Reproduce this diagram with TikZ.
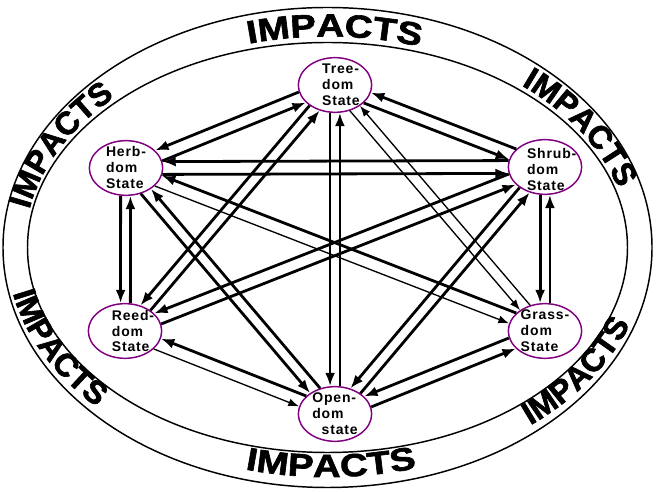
\documentclass[tikz,border=0pt]{standalone}
\usepackage{fontspec}
\setmainfont{Liberation Sans}
\newfontfamily\statefont[LetterSpace=6]{Liberation Sans}
\newfontfamily\impfont[FakeStretch=1.2,FakeBold=2]{Liberation Sans}
\newfontfamily\impsidefont[FakeBold=2]{Liberation Sans}
\usetikzlibrary{arrows.meta,calc,shapes.geometric,decorations.text}

\definecolor{stateline}{RGB}{128,0,128}

\newcommand{\lanegap}{10}
% two arrows between a pair of states, one each way, right-hand lanes
\newcommand{\twoway}[4]{%
  \pgfmathanglebetweenpoints{\pgfpointanchor{#1}{center}}{\pgfpointanchor{#2}{center}}%
  \edef\dirang{\pgfmathresult}%
  \pgfmathtruncatemacro{\outA}{\dirang-\lanegap+360}%
  \pgfmathtruncatemacro{\inB}{\dirang+180+\lanegap}%
  \pgfmathtruncatemacro{\outB}{\dirang+180-\lanegap}%
  \pgfmathtruncatemacro{\inA}{\dirang+\lanegap}%
  \draw[flow,#3] (#1.\outA) -- (#2.\inB);
  \draw[flow,#4] (#2.\outB) -- (#1.\inA);
}

\begin{document}
\begin{tikzpicture}[x=0.75pt, y=0.75pt,
    state/.style={ellipse, draw=stateline, line width=1.1pt, minimum width=55pt, minimum height=41pt, inner sep=0pt},
    statetext/.style={font=\statefont\bfseries\fontsize{10.5}{12}\selectfont, align=left, inner sep=0pt},
    band/.style={line width=1.1pt},
    flow/.style={-{Latex[length=10pt,width=7.5pt]}},
    heavy/.style={line width=2.1pt},
    light/.style={line width=1pt, -{Latex[length=8pt,width=6pt]}},
    impact/.style={decorate, decoration={text along path, text align=center,
      text={|\impfont\bfseries\fontsize{24}{24}\selectfont|IMPACTS}}},
    impactside/.style={decorate, decoration={text along path, text align=center,
      text={|\impsidefont\bfseries\fontsize{24}{24}\selectfont|IMPACTS}}}]
  \useasboundingbox (0,0) rectangle (657,492);

  % the impacts band
  \coordinate (mid) at (327.5,244.5);
  \draw[band] (mid) ellipse [x radius=324.5, y radius=240];
  \draw[band] (mid) ellipse [x radius=300, y radius=205];
  \path[impact] (mid) ++(128.5:303 and 211) arc[start angle=128.5, end angle=48.5, x radius=303, y radius=211];
  \path[impactside] (mid) ++(195:303 and 211) arc[start angle=195, end angle=115, x radius=303, y radius=211];
  \path[impactside] (mid) ++(70:303 and 211) arc[start angle=70, end angle=-10, x radius=303, y radius=211];
  \path[impact] (mid) ++(230.7:321 and 229.5) arc[start angle=230.7, end angle=310.7, x radius=321, y radius=229.5];
  \path[impactside] (mid) ++(165:321 and 229.5) arc[start angle=165, end angle=245, x radius=321, y radius=229.5];
  \path[impactside] (mid) ++(288:321 and 229.5) arc[start angle=288, end angle=368, x radius=321, y radius=229.5];

  % states
  \node[state] (tree) at (335,407) {};
  \node[state] (herb) at (126,324) {};
  \node[state] (shrub) at (545,325) {};
  \node[state] (reed) at (125,161) {};
  \node[state] (grass) at (545,161) {};
  \node[state] (open) at (335,78) {};
  \node[statetext, xshift=4.5pt] (treetext) at (tree) {Tree-\\dom\\State};
  \node[statetext] (herbtext) at (herb) {Herb-\\dom\\State};
  \node[statetext, xshift=5pt, yshift=-2pt] (shrubtext) at (shrub) {Shrub-\\dom\\State};
  \node[statetext, xshift=6pt] (reedtext) at (reed) {Reed-\\dom\\State};
  \node[statetext] (grasstext) at (grass) {Grass-\\dom\\State};
  \node[statetext] (opentext) at (open) {Open-\\dom\\\hspace{7pt}state};

  % transitions
  \foreach \a/\b/\sa/\sb in {tree/herb/heavy/heavy, tree/shrub/heavy/heavy,
      tree/reed/heavy/heavy, tree/grass/light/light, tree/open/heavy/heavy,
      herb/shrub/heavy/heavy, herb/reed/heavy/heavy, herb/grass/light/heavy,
      herb/open/heavy/heavy, shrub/reed/heavy/heavy, shrub/grass/heavy/heavy,
      shrub/open/heavy/heavy, reed/open/light/heavy, grass/open/heavy/heavy}
    \twoway{\a}{\b}{\sa}{\sb};
\end{tikzpicture}
\end{document}
